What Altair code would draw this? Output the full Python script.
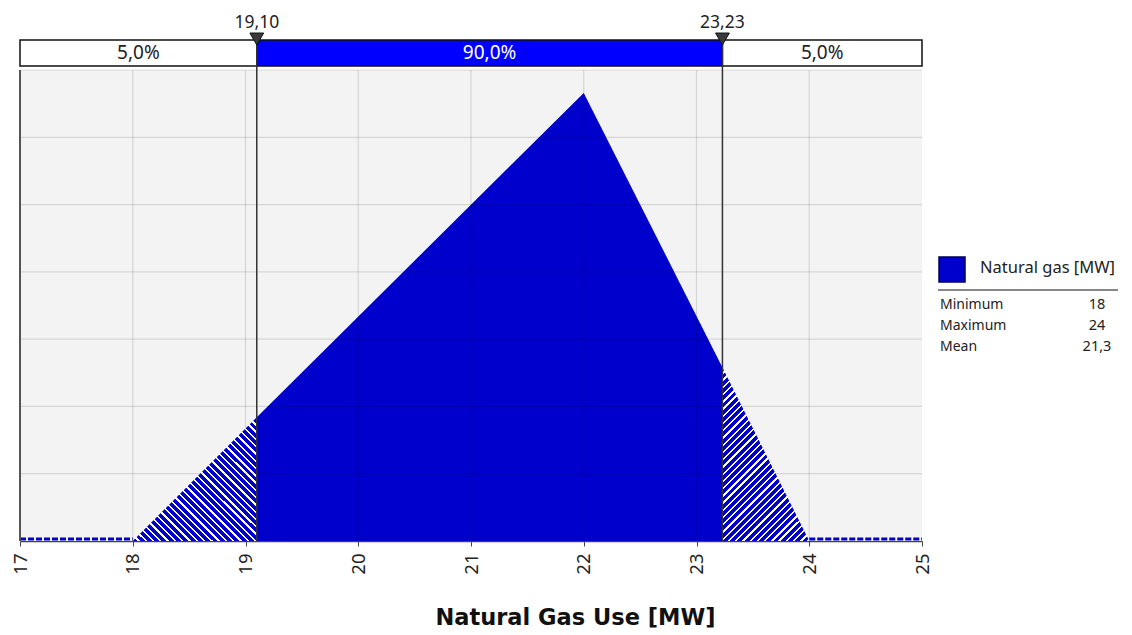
import altair as alt
import pandas as pd

# ---------------- data ----------------
x_ticks = [17, 18, 19, 20, 21, 22, 23, 24, 25]
y_grid = [0.05, 0.10, 0.15, 0.20, 0.25, 0.30, 0.35]

left_x = [18.0, 19.10]
left_y = [0.0, 0.092]
mid_x = [19.10, 22.0, 23.23]
mid_y = [0.092, 0.333, 0.129]
right_x = [23.23, 24.0]
right_y = [0.129, 0.0]
zero_from = [17.0, 24.0]
zero_to = [18.0, 25.0]

pct_values = [19.10, 23.23]
pct_labels = ["19,10", "23,23"]

band_from = [17.0, 19.10, 23.23]
band_to = [19.10, 23.23, 25.0]
band_text = ["5,0%", "90,0%", "5,0%"]
band_fill = ["#ffffff", "#0000ff", "#ffffff"]
band_ink = ["#222222", "#ffffff", "#222222"]

legend_name = "Natural gas [MW]"
stat_names = ["Minimum", "Maximum", "Mean"]
stat_values = ["18", "24", "21,3"]

TITLE = "Natural Gas Use [MW]"

# ---------------- layout (pixels) ----------------
W = 902
MAIN_H = 471
H = 501
Y_MAIN = 0.35
Y_TOP = Y_MAIN * H / MAIN_H
BAND_LOW = Y_MAIN * (MAIN_H + 4) / MAIN_H
FONT = "Noto Sans"
AREA_BLUE = "#0000cc"

xscale = alt.Scale(domain=[17, 25], nice=False, zero=False)
yscale = alt.Scale(domain=[0, Y_TOP], nice=False, zero=True)
xaxis = alt.Axis(values=x_ticks, labelAngle=270, labelFontSize=18.5, labelFont=FONT,
                 labelColor="#222222", labelFlush=False, labelOverlap=False,
                 labelPadding=7, tickSize=5, tickColor="#444444", domainColor="#444444",
                 domainWidth=1.5, grid=False, format="d",
                 titleFontSize=22.5, titleFontWeight="bold", titleFont="DejaVu Sans",
                 titleColor="#111111", titleX=555, titleY=83, titleBaseline="alphabetic",
                 titleAlign="center")


def X(f):
    return alt.X(f, type="quantitative", scale=xscale, axis=xaxis, title=TITLE)


def Y(f):
    return alt.Y(f, type="quantitative", scale=yscale, axis=None)


def stripes(n, w_blue=0.68):
    stops = []
    for i in range(n):
        a = i / n
        b = (i + w_blue) / n
        c = (i + 1) / n
        stops += [alt.GradientStop(color=AREA_BLUE, offset=a),
                  alt.GradientStop(color=AREA_BLUE, offset=b),
                  alt.GradientStop(color="#ffffff", offset=b),
                  alt.GradientStop(color="#ffffff", offset=c)]
    return stops


bg_df = pd.DataFrame({"x0": [17.0], "x1": [25.0], "y0": [0.0], "y1": [Y_MAIN]})
background = alt.Chart(bg_df).mark_rect(color="#f3f3f3").encode(
    x=X("x0"), x2="x1", y=Y("y0"), y2="y1")

left_df = pd.DataFrame({"x": left_x, "y": left_y})
mid_df = pd.DataFrame({"x": mid_x, "y": mid_y})
right_df = pd.DataFrame({"x": right_x, "y": right_y})

left_area = alt.Chart(left_df).mark_area(
    color=alt.Gradient(gradient="linear", stops=stripes(34), x1=0, y1=1, x2=1, y2=0)
).encode(x=X("x"), y=Y("y"))
mid_area = alt.Chart(mid_df).mark_area(color=AREA_BLUE).encode(x=X("x"), y=Y("y"))
right_area = alt.Chart(right_df).mark_area(
    color=alt.Gradient(gradient="linear", stops=stripes(36), x1=0, y1=0, x2=0.6, y2=1.2)
).encode(x=X("x"), y=Y("y"))

zero_df = pd.DataFrame({"x0": zero_from, "x1": zero_to, "y": [0.0, 0.0]})
zero_line = alt.Chart(zero_df).mark_rule(color=AREA_BLUE, strokeWidth=3,
                                         strokeDash=[6, 2], yOffset=-2).encode(
    x=X("x0"), x2="x1", y=Y("y"))

vg_df = pd.DataFrame({"x": x_ticks[1:-1], "y0": 0.0, "y1": Y_MAIN})
vgrid = alt.Chart(vg_df).mark_rule(color="#000000", opacity=0.12, strokeWidth=1.2).encode(
    x=X("x"), y=Y("y0"), y2="y1")
hg_df = pd.DataFrame({"y": y_grid, "x0": 17.0, "x1": 25.0})
hgrid = alt.Chart(hg_df).mark_rule(color="#000000", opacity=0.12, strokeWidth=1.2).encode(
    x=X("x0"), x2="x1", y=Y("y"))
edge_df = pd.DataFrame({"x": [17.0], "y0": [0.0], "y1": [Y_MAIN]})
left_edge = alt.Chart(edge_df).mark_rule(color="#555555", strokeWidth=2).encode(
    x=X("x"), y=Y("y0"), y2="y1")

band_df = pd.DataFrame({"x0": band_from, "x1": band_to, "t": band_text,
                        "fill": band_fill, "ink": band_ink,
                        "y0": BAND_LOW, "y1": Y_TOP})
band_df["xm"] = (band_df["x0"] + band_df["x1"]) / 2
band_df["ym"] = (BAND_LOW + Y_TOP) / 2
band = alt.Chart(band_df).mark_rect(stroke="#111111", strokeWidth=1.5).encode(
    x=X("x0"), x2="x1", y=Y("y0"), y2="y1",
    fill=alt.Fill("fill:N", scale=None))
band_txt = alt.Chart(band_df).mark_text(fontSize=19, font=FONT, baseline="middle").encode(
    x=X("xm"), y=Y("ym"), text="t:N", color=alt.Color("ink:N", scale=None))

pct_df = pd.DataFrame({"x": pct_values, "lab": pct_labels, "y0": 0.0, "y1": Y_TOP})
pct_lines = alt.Chart(pct_df).mark_rule(color="#333333", strokeWidth=1.5).encode(
    x=X("x"), y=Y("y0"), y2="y1")
pct_marks = alt.Chart(pct_df).mark_point(shape="triangle-down", filled=True, size=190,
                                         color="#3a3a3a", opacity=1, yOffset=-1,
                                         stroke="#111111", strokeWidth=1).encode(
    x=X("x"), y=Y("y1"))
pct_text = alt.Chart(pct_df).mark_text(fontSize=17.5, font=FONT, color="#222222",
                                       baseline="middle", dy=-17).encode(
    x=X("x"), y=Y("y1"), text="lab:N")

# legend panel on the right (pixel placement relative to plot area)
one = pd.DataFrame({"t": [legend_name]})
leg_sq = alt.Chart(one).mark_rect(fill=AREA_BLUE, stroke="#000055", strokeWidth=1.5).encode(
    x=alt.value(919), x2=alt.value(945), y=alt.value(217), y2=alt.value(242))
leg_txt = alt.Chart(one).mark_text(fontSize=16.5, font=FONT, color="#222222", align="left",
                                   baseline="middle").encode(
    x=alt.value(960), y=alt.value(228), text="t:N")
leg_rule = alt.Chart(one).mark_rule(color="#888888", strokeWidth=2).encode(
    x=alt.value(918), x2=alt.value(1098), y=alt.value(250))

stat_layers = []
for i, (nm, vl) in enumerate(zip(stat_names, stat_values)):
    d = pd.DataFrame({"n": [nm], "v": [vl]})
    yy = 265 + 21 * i
    stat_layers.append(alt.Chart(d).mark_text(fontSize=14, font=FONT, color="#222222",
                                              align="left", baseline="middle").encode(
        x=alt.value(920), y=alt.value(yy), text="n:N"))
    stat_layers.append(alt.Chart(d).mark_text(fontSize=14.5, font=FONT, color="#222222",
                                              align="center", baseline="middle").encode(
        x=alt.value(1077), y=alt.value(yy), text="v:N"))

chart = alt.layer(
    background, left_area, mid_area, right_area, zero_line, vgrid, hgrid, left_edge,
    band, band_txt, pct_lines, pct_marks, pct_text,
    leg_sq, leg_txt, leg_rule, *stat_layers
).properties(
    width=W, height=H,
    padding={"left": 12, "top": 32, "right": 198, "bottom": 88},
    autosize=alt.AutoSizeParams(type="none"),
).configure_view(stroke=None)

chart.save("out.html", embed_options={"renderer": "svg", "actions": False})
